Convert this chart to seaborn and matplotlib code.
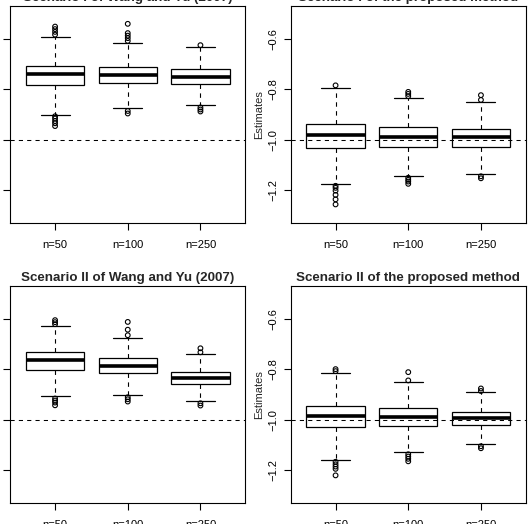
import pandas as pd
import matplotlib.pyplot as plt
import seaborn as sns

groups = ['n=50', 'n=100', 'n=250']
titles = ['Scenario I of Wang and Yu (2007)', 'Scenario I of the proposed method',
          'Scenario II of Wang and Yu (2007)', 'Scenario II of the proposed method']

# box summaries: lower whisker, Q1, median, Q3, upper whisker
wy1_stats = [[-0.900, -0.784, -0.739, -0.706, -0.590],
             [-0.874, -0.775, -0.743, -0.710, -0.614],
             [-0.864, -0.780, -0.750, -0.720, -0.632]]
wy1_out = [[-0.550, -0.560, -0.571, -0.582, -0.907, -0.916, -0.926, -0.935, -0.946],
           [-0.539, -0.576, -0.586, -0.596, -0.607, -0.886, -0.896],
           [-0.624, -0.872, -0.880, -0.888]]

pm1_stats = [[-1.175, -1.034, -0.982, -0.938, -0.794],
             [-1.145, -1.030, -0.988, -0.951, -0.834],
             [-1.136, -1.028, -0.991, -0.956, -0.852]]
pm1_out = [[-0.784, -1.184, -1.192, -1.203, -1.220, -1.238, -1.258],
           [-0.810, -0.818, -0.827, -1.152, -1.160, -1.167, -1.176],
           [-0.823, -0.842, -1.146, -1.154]]

wy2_stats = [[-0.907, -0.804, -0.763, -0.732, -0.628],
             [-0.900, -0.816, -0.787, -0.756, -0.674],
             [-0.927, -0.860, -0.835, -0.811, -0.740]]
wy2_out = [[-0.604, -0.612, -0.620, -0.916, -0.924, -0.932, -0.943],
           [-0.611, -0.642, -0.664, -0.911, -0.919, -0.928],
           [-0.716, -0.732, -0.935, -0.944]]

pm2_stats = [[-1.160, -1.031, -0.986, -0.944, -0.816],
             [-1.128, -1.026, -0.990, -0.955, -0.852],
             [-1.098, -1.022, -0.995, -0.970, -0.892]]
pm2_out = [[-0.799, -0.807, -1.168, -1.178, -1.187, -1.196, -1.222],
           [-0.811, -0.844, -1.138, -1.147, -1.156, -1.166],
           [-0.876, -0.886, -1.106, -1.114]]

true_value = -1.0
yticks = [-1.2, -1.0, -0.8, -0.6]

sns.set_theme(style='ticks', rc={'axes.edgecolor': 'black', 'axes.linewidth': 0.8,
                                 'xtick.color': 'black', 'ytick.color': 'black',
                                 'xtick.major.size': 5, 'ytick.major.size': 5,
                                 'xtick.major.width': 0.8, 'ytick.major.width': 0.8})
plt.rcParams['font.family'] = ['Liberation Sans', 'DejaVu Sans']


def box_frame(stats, k=10):
    # repeat the read values so the quartiles land exactly on them
    rows = []
    for g, (lo, q1, med, q3, hi) in zip(groups, stats):
        vals = [lo] + [q1] * k + [med] * k + [q3] * k + [hi]
        rows += [(g, v) for v in vals]
    return pd.DataFrame(rows, columns=['n', 'est'])


def out_frame(outs):
    rows = []
    for g, vals in zip(groups, outs):
        rows += [(g, v) for v in vals]
    return pd.DataFrame(rows, columns=['n', 'est'])


fig = plt.figure(figsize=(5.32, 5.24), dpi=100)
W, H = 532, 524
# axes boxes in pixels: left, top, width, height
boxes = [(10, 6, 235.5, 217), (290.5, 6, 235.5, 217),
         (10, 286, 235.5, 217), (290.5, 286, 235.5, 217)]
panels = [(wy1_stats, wy1_out), (pm1_stats, pm1_out),
          (wy2_stats, wy2_out), (pm2_stats, pm2_out)]

dash = (0, (4, 4))
for (l, t, w, h), (stats, outs), title in zip(boxes, panels, titles):
    ax = fig.add_axes([l / W, (H - t - h) / H, w / W, h / H])
    sns.boxplot(data=box_frame(stats), x='n', y='est', order=groups, ax=ax,
                whis=(0, 100), showfliers=False, width=0.8, color='white',
                linecolor='black', linewidth=0.9, saturation=1,
                medianprops={'linewidth': 2.6},
                whiskerprops={'linestyle': dash, 'linewidth': 0.8})
    sns.stripplot(data=out_frame(outs), x='n', y='est', order=groups, ax=ax,
                  jitter=False, size=3.4, facecolor='none', edgecolor='black',
                  linewidth=0.8)
    ax.axhline(true_value, color='black', linestyle=dash, linewidth=0.75, zorder=4)
    ax.set_xlim(-0.62, 2.62)
    ax.set_ylim(-1.332, -0.468)
    ax.set_yticks(yticks)
    ax.tick_params(axis='both', labelsize=8)
    ax.tick_params(axis='x', pad=7)
    ax.tick_params(axis='y', pad=4, labelrotation=90)
    for lab in ax.get_yticklabels():
        lab.set_va('center')
    ax.set_xlabel('')
    ax.set_ylabel('Estimates', fontsize=8, labelpad=3)
    ax.set_title(title, fontsize=9.6, fontweight='bold', pad=3.4)

fig.savefig('out.png', dpi=100)
